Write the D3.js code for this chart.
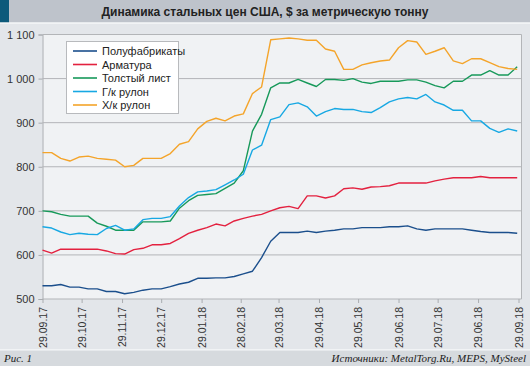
<!DOCTYPE html>
<html><head><meta charset="utf-8">
<script src="https://cdn.jsdelivr.net/npm/d3@7"></script>
<style>
html,body{margin:0;padding:0;background:#e3e6ea;}
svg{display:block;}
</style></head>
<body>
<svg id="chart" width="530" height="366"></svg>
<script>
const title = "Динамика стальных цен США, $ за метрическую тонну";
const figLabel = "Рис. 1";
const sourceText = "Источники: MetalTorg.Ru, MEPS, MySteel";
const seriesNames = ["Полуфабрикаты", "Арматура", "Толстый лист", "Г/к рулон", "Х/к рулон"];
const seriesColors = ["#1b4f8c", "#e3213f", "#17995a", "#17a8e3", "#f4a42a"];
const startDate = "2017-09-29";
const tickDates = ["2017-09-29","2017-10-29","2017-11-29","2017-12-29","2018-01-29","2018-02-28","2018-03-29","2018-04-29","2018-05-29","2018-06-29","2018-07-29","2018-08-29","2018-09-29"];
const tickLabels = ["29.09.17","29.10.17","29.11.17","29.12.17","29.01.18","28.02.18","29.03.18","29.04.18","29.05.18","29.06.18","29.07.18","29.06.18","29.09.18"];
const yTicks = [500, 600, 700, 800, 900, 1000, 1100];
const yTickLabels = ["500", "600", "700", "800", "900", "1 000", "1 100"];

// weekly values
const semis = [530,530,533,527,527,523,523,517,517,512,515,520,523,523,528,534,538,547,547,548,548,551,557,563,594,631,651,651,651,654,651,654,656,659,659,662,662,662,664,664,666,659,656,659,659,659,659,656,653,651,651,651,649];
const rebar = [611,604,613,613,613,613,613,609,603,602,612,615,623,623,626,637,649,656,662,670,666,677,683,688,692,700,707,710,705,734,734,729,734,750,752,749,754,755,757,763,763,763,763,768,772,775,775,775,778,775,775,775,775];
const plate = [700,698,692,688,688,688,672,665,656,656,656,675,675,675,677,706,723,735,737,739,751,763,791,881,919,979,990,990,998,990,982,998,998,996,1000,992,989,994,994,994,997,997,992,984,979,994,994,1008,1008,1018,1008,1008,1027];
const hrc = [664,661,652,646,649,647,646,660,667,656,659,680,683,683,687,711,730,743,745,748,759,770,783,838,849,907,913,941,945,936,915,925,932,930,930,925,923,934,947,954,957,954,964,947,940,928,928,904,904,887,878,886,881];
const crc = [832,832,819,813,822,824,819,817,815,800,803,819,819,819,830,851,857,886,903,910,904,915,920,966,981,1088,1090,1092,1090,1087,1087,1067,1062,1021,1021,1031,1036,1040,1042,1070,1086,1083,1055,1062,1070,1040,1034,1045,1045,1036,1027,1023,1021];

const allSeries = [semis, rebar, plate, hrc, crc];

const svg = d3.select("#chart");
const W = 530, H = 366;
const parse = d3.timeParse("%Y-%m-%d");
const t0 = parse(startDate);
const dates = semis.map((_, i) => d3.timeDay.offset(t0, 7 * i));

const pLeft = 42.5, pRight = 521.5, pTop = 34.5, pBottom = 299;
const x = d3.scaleTime().domain([parse(tickDates[0]), parse(tickDates[tickDates.length - 1])]).range([pLeft, 518.5]);
const y = d3.scaleLinear().domain([500, 1100]).range([pBottom, pTop]);

// backgrounds
svg.append("rect").attr("x", 0).attr("y", 0).attr("width", W).attr("height", H).attr("fill", "#e3e6ea");
svg.append("rect").attr("x", 0).attr("y", 0).attr("width", W).attr("height", 22.5).attr("fill", "#bec3cb");
svg.append("rect").attr("x", 0).attr("y", 0).attr("width", 9).attr("height", 22.5).attr("fill", "#0d5a7b");
svg.append("line").attr("x1", 0).attr("x2", W).attr("y1", 23).attr("y2", 23).attr("stroke", "#ffffff").attr("stroke-width", 1);
svg.append("text").attr("x", 265).attr("y", 16).attr("text-anchor", "middle")
  .attr("font-family", "Liberation Sans, Arial, sans-serif").attr("font-weight", "bold").attr("font-size", 12)
  .attr("fill", "#222").text(title);

// footer band
svg.append("line").attr("x1", 0).attr("x2", W).attr("y1", 350).attr("y2", 350).attr("stroke", "#ffffff").attr("stroke-width", 1.2);
svg.append("rect").attr("x", 0).attr("y", 350.6).attr("width", W).attr("height", H - 350.6).attr("fill", "#d6dade");
svg.append("text").attr("x", 4).attr("y", 362).attr("font-family", "Liberation Serif, Times New Roman, serif")
  .attr("font-style", "italic").attr("font-size", 11).attr("fill", "#222").text(figLabel);
svg.append("text").attr("x", 526).attr("y", 362).attr("text-anchor", "end").attr("font-family", "Liberation Serif, Times New Roman, serif")
  .attr("font-style", "italic").attr("font-size", 11).attr("fill", "#222").text(sourceText);

// plot area
svg.append("rect").attr("x", pLeft).attr("y", pTop).attr("width", pRight - pLeft).attr("height", pBottom - pTop).attr("fill", "#f0f2f4");

// y axis
const yAxis = d3.axisLeft(y).tickValues(yTicks).tickSize(4).tickFormat((d, i) => yTickLabels[i]);
const gy = svg.append("g").attr("transform", `translate(${pLeft},0)`).call(yAxis);
gy.select(".domain").attr("stroke", "#a9acb0");
gy.selectAll(".tick line").attr("stroke", "#a9acb0");
gy.selectAll(".tick text").attr("font-family", "Liberation Sans, Arial, sans-serif").attr("font-size", 11).attr("fill", "#333").attr("dx", -1);

// gridlines
svg.append("g").selectAll("line").data(yTicks).join("line")
  .attr("x1", pLeft).attr("x2", pRight).attr("y1", d => y(d)).attr("y2", d => y(d))
  .attr("stroke", "#b3b5b8").attr("stroke-width", 1);
svg.append("line").attr("x1", pRight).attr("x2", pRight).attr("y1", pTop).attr("y2", pBottom).attr("stroke", "#b3b5b8");

// x axis
const xAxis = d3.axisBottom(x).tickValues(tickDates.map(parse)).tickSize(4).tickFormat((d, i) => tickLabels[i]);
const gx = svg.append("g").attr("transform", `translate(0,${pBottom})`).call(xAxis);
gx.select(".domain").remove();
gx.selectAll(".tick line").attr("stroke", "#a9acb0");
gx.selectAll(".tick text").attr("font-family", "Liberation Sans, Arial, sans-serif").attr("font-size", 10.5).attr("fill", "#333")
  .attr("transform", "rotate(-90)").attr("text-anchor", "end").attr("x", -8).attr("y", 0).attr("dy", "0.35em");

// lines
const line = d3.line().x((d, i) => x(dates[i])).y(d => y(d));
svg.append("g").selectAll("path").data(allSeries).join("path")
  .attr("d", d => line(d)).attr("fill", "none")
  .attr("stroke", (d, i) => seriesColors[i]).attr("stroke-width", 1.4).attr("stroke-linejoin", "round");

// legend
const lg = svg.append("g");
lg.append("rect").attr("x", 66.5).attr("y", 41.5).attr("width", 112).attr("height", 72).attr("fill", "#ffffff").attr("stroke", "#b8babd");
seriesNames.forEach((n, i) => {
  const yy = 51 + i * 13.5;
  lg.append("line").attr("x1", 73).attr("x2", 97).attr("y1", yy).attr("y2", yy).attr("stroke", seriesColors[i]).attr("stroke-width", 1.6);
  lg.append("text").attr("x", 102).attr("y", yy + 4).attr("font-family", "Liberation Sans, Arial, sans-serif")
    .attr("font-size", 11).attr("fill", "#222").text(n);
});
</script>
</body></html>
